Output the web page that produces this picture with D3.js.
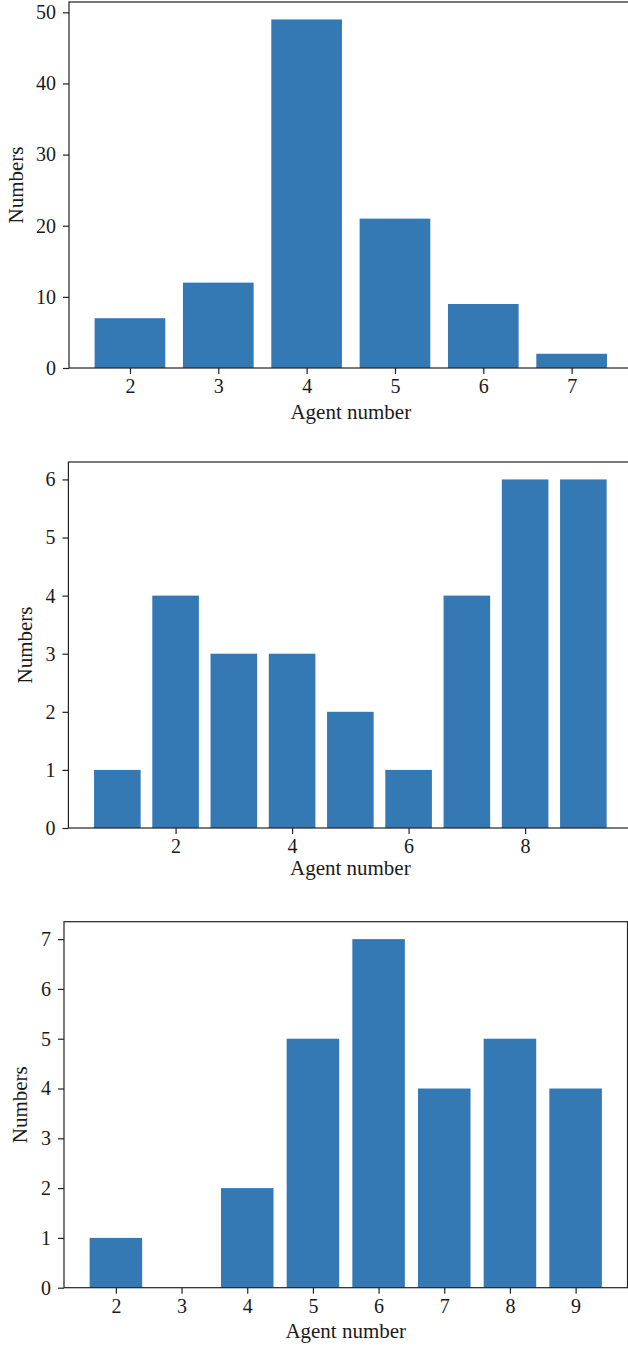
<!DOCTYPE html>
<html>
<head>
<meta charset="utf-8">
<script src="https://cdn.jsdelivr.net/npm/d3@7"></script>
<style>
  body { margin: 0; background: #fff; }
  svg { display: block; }
  text { font-family: "Liberation Serif", "DejaVu Serif", serif; fill: #1a1a1a; }
</style>
</head>
<body>
<div id="chart"></div>
<script>
// Datos de los tres paneles
const agents1 = [2, 3, 4, 5, 6, 7];
const counts1 = [7, 12, 49, 21, 9, 2];
const yTicks1 = [0, 10, 20, 30, 40, 50];

const agents2 = [1, 2, 3, 4, 5, 6, 7, 8, 9];
const counts2 = [1, 4, 3, 3, 2, 1, 4, 6, 6];
const xTicks2 = [2, 4, 6, 8];
const yTicks2 = [0, 1, 2, 3, 4, 5, 6];

const agents3 = [2, 3, 4, 5, 6, 7, 8, 9];
const counts3 = [1, 0, 2, 5, 7, 4, 5, 4];
const yTicks3 = [0, 1, 2, 3, 4, 5, 6, 7];

const xLabel = "Agent number";
const yLabel = "Numbers";

const W = 628, H = 1346;
const barColor = "#3579b4";
const tickFont = 20;
const labelFont = 21;

const svg = d3.select("#chart").append("svg")
  .attr("width", W)
  .attr("height", H);

// Un panel de barras al estilo matplotlib
function drawPanel(p) {
  const g = svg.append("g");
  const lo = d3.min(p.agents) - 0.4, hi = d3.max(p.agents) + 0.4;
  const pad = (hi - lo) * 0.05;

  const x = d3.scaleLinear()
    .domain([lo - pad, hi + pad])
    .range([p.left, p.right]);

  const y = d3.scaleLinear()
    .domain([0, d3.max(p.counts) * 1.05])
    .range([p.bottom, p.top]);

  // Barras
  g.selectAll("rect")
    .data(p.agents.map((a, i) => ({ a, v: p.counts[i] })))
    .enter().append("rect")
    .attr("x", d => x(d.a - 0.4))
    .attr("width", d => x(d.a + 0.4) - x(d.a - 0.4))
    .attr("y", d => y(d.v))
    .attr("height", d => y(0) - y(d.v))
    .attr("fill", barColor);

  // Ejes
  const xAxis = g.append("g")
    .attr("transform", `translate(0,${p.bottom})`)
    .call(d3.axisBottom(x).tickValues(p.xTicks).tickSize(6).tickPadding(5).tickFormat(d3.format("d")));

  const yAxis = g.append("g")
    .attr("transform", `translate(${p.left},0)`)
    .call(d3.axisLeft(y).tickValues(p.yTicks).tickSize(6).tickPadding(7).tickFormat(d3.format("d")));

  [xAxis, yAxis].forEach(a => {
    a.select(".domain").remove();
    a.selectAll(".tick line").attr("stroke", "#222").attr("stroke-width", 1.2);
    a.selectAll(".tick text")
      .attr("font-size", tickFont)
      .attr("font-family", "Liberation Serif, serif")
      .attr("fill", "#1a1a1a");
  });

  // Marco
  g.append("rect")
    .attr("x", p.left)
    .attr("y", p.top)
    .attr("width", p.right - p.left)
    .attr("height", p.bottom - p.top)
    .attr("fill", "none")
    .attr("stroke", "#222")
    .attr("stroke-width", 1.2);

  // Titulos de ejes
  g.append("text")
    .attr("x", (p.left + p.right) / 2)
    .attr("y", p.bottom + p.xLabelOff)
    .attr("text-anchor", "middle")
    .attr("font-size", labelFont)
    .text(xLabel);

  g.append("text")
    .attr("transform", `translate(${p.yLabelX},${(p.top + p.bottom) / 2}) rotate(-90)`)
    .attr("text-anchor", "middle")
    .attr("font-size", labelFont)
    .text(yLabel);
}

drawPanel({ agents: agents1, counts: counts1, xTicks: agents1, yTicks: yTicks1,
  left: 69, right: 632.6, top: 2, bottom: 368, xLabelOff: 51, yLabelX: 23 });

drawPanel({ agents: agents2, counts: counts2, xTicks: xTicks2, yTicks: yTicks2,
  left: 68.4, right: 632.3, top: 462, bottom: 828, xLabelOff: 47, yLabelX: 32 });

drawPanel({ agents: agents3, counts: counts3, xTicks: agents3, yTicks: yTicks3,
  left: 64, right: 627.5, top: 921.7, bottom: 1287.7, xLabelOff: 50, yLabelX: 27 });
</script>
</body>
</html>
